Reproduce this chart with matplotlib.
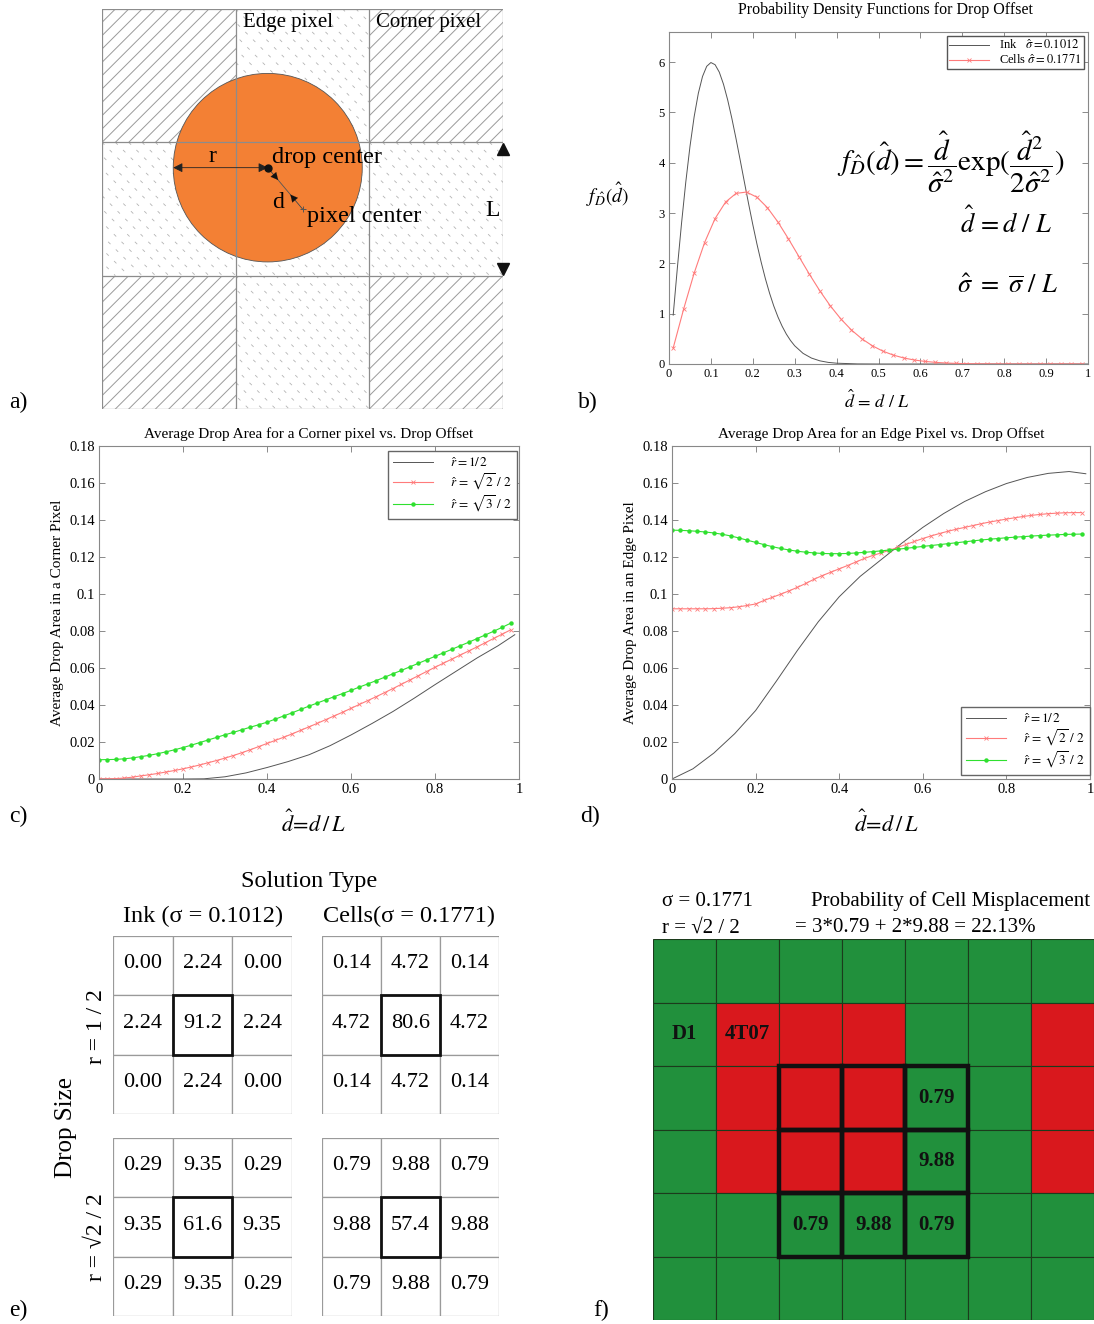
import numpy as np
import matplotlib
matplotlib.use("Agg")
import matplotlib.pyplot as plt
from matplotlib.patches import Rectangle, Circle

plt.rcParams['font.family'] = ['Liberation Serif', 'DejaVu Serif']
plt.rcParams['mathtext.fontset'] = 'stix'

W, H = 1094, 1324

# ---- panel b: probability density of drop offset
ink_x = [0.01, 0.02, 0.03, 0.04, 0.05, 0.06, 0.07, 0.08, 0.09, 0.10,
         0.11, 0.12, 0.13, 0.14, 0.15, 0.16, 0.17, 0.18, 0.19, 0.20,
         0.21, 0.22, 0.23, 0.24, 0.25, 0.26, 0.27, 0.28, 0.29, 0.30,
         0.32, 0.34, 0.36, 0.38, 0.40, 0.45, 0.50, 0.60, 0.70, 0.80, 0.90, 1.00]
ink_pdf = [0.972, 1.915, 2.804, 3.612, 4.321, 4.915, 5.381, 5.716, 5.918, 5.993,
           5.950, 5.802, 5.563, 5.251, 4.883, 4.478, 4.049, 3.614, 3.184, 2.771,
           2.381, 2.023, 1.697, 1.408, 1.154, 0.936, 0.751, 0.595, 0.467, 0.362,
           0.211, 0.118, 0.063, 0.032, 0.016, 0.002, 0.0, 0.0, 0.0, 0.0, 0.0, 0.0]
cells_x = np.arange(40) * 0.025 + 0.01
cells_pdf = [0.318, 1.094, 1.806, 2.415, 2.892, 3.219, 3.392, 3.418, 3.315, 3.107,
             2.822, 2.489, 2.137, 1.786, 1.454, 1.156, 0.897, 0.679, 0.503, 0.364,
             0.257, 0.178, 0.120, 0.080, 0.052, 0.033, 0.020, 0.012, 0.007, 0.004,
             0.002, 0.001, 0.001, 0.0, 0.0, 0.0, 0.0, 0.0, 0.0, 0.0]

# ---- panels c, d: average drop area vs offset
offset = np.arange(50) * 0.02
line_x = [0.0, 0.05, 0.10, 0.15, 0.20, 0.25, 0.30, 0.35, 0.40, 0.45, 0.50,
          0.55, 0.60, 0.65, 0.70, 0.75, 0.80, 0.85, 0.90, 0.95, 0.99]
corner_half = [0.0, 0.0, 0.0, 0.0, 0.0, 0.0001, 0.0012, 0.0033, 0.0062, 0.0094, 0.0131,
               0.0180, 0.0238, 0.0300, 0.0365, 0.0436, 0.0510, 0.0582, 0.0654, 0.0720, 0.0780]
corner_sqrt2 = [0.0000, 0.0001, 0.0002, 0.0005, 0.0010, 0.0017, 0.0023, 0.0030, 0.0038, 0.0046,
                0.0055, 0.0065, 0.0076, 0.0088, 0.0100, 0.0113, 0.0127, 0.0142, 0.0158, 0.0175,
                0.0192, 0.0209, 0.0226, 0.0244, 0.0263, 0.0282, 0.0301, 0.0321, 0.0341, 0.0361,
                0.0382, 0.0403, 0.0424, 0.0445, 0.0467, 0.0489, 0.0512, 0.0535, 0.0558, 0.0581,
                0.0604, 0.0626, 0.0648, 0.0670, 0.0692, 0.0714, 0.0737, 0.0760, 0.0783, 0.0806]
corner_sqrt3 = [0.0104, 0.0105, 0.0106, 0.0109, 0.0114, 0.0121, 0.0128, 0.0137, 0.0147, 0.0158,
                0.0170, 0.0183, 0.0197, 0.0211, 0.0225, 0.0239, 0.0252, 0.0266, 0.0280, 0.0293,
                0.0307, 0.0324, 0.0341, 0.0358, 0.0376, 0.0394, 0.0411, 0.0428, 0.0445, 0.0462,
                0.0479, 0.0497, 0.0514, 0.0532, 0.0550, 0.0569, 0.0587, 0.0606, 0.0625, 0.0644,
                0.0663, 0.0682, 0.0701, 0.0720, 0.0739, 0.0759, 0.0779, 0.0799, 0.0820, 0.0842]
edge_half = [0.0, 0.0055, 0.0140, 0.0245, 0.0370, 0.0530, 0.0695, 0.0850, 0.0985, 0.1095, 0.1185,
             0.1275, 0.1360, 0.1435, 0.1500, 0.1553, 0.1597, 0.1630, 0.1652, 0.1662, 0.1650]
edge_sqrt2 = [0.0920, 0.0920, 0.0920, 0.0920, 0.0920, 0.0921, 0.0923, 0.0926, 0.0931, 0.0938,
              0.0946, 0.0965, 0.0982, 0.0999, 0.1017, 0.1036, 0.1057, 0.1080, 0.1100, 0.1118,
              0.1136, 0.1154, 0.1173, 0.1192, 0.1208, 0.1222, 0.1236, 0.1252, 0.1268, 0.1284,
              0.1300, 0.1314, 0.1327, 0.1339, 0.1350, 0.1360, 0.1370, 0.1380, 0.1389, 0.1397,
              0.1405, 0.1412, 0.1419, 0.1425, 0.1430, 0.1434, 0.1437, 0.1439, 0.1440, 0.1440]
edge_sqrt3 = [0.1345, 0.1344, 0.1342, 0.1339, 0.1335, 0.1330, 0.1323, 0.1314, 0.1303, 0.1291,
              0.1279, 0.1267, 0.1256, 0.1246, 0.1238, 0.1231, 0.1226, 0.1222, 0.1219, 0.1218,
              0.1218, 0.1219, 0.1222, 0.1225, 0.1229, 0.1233, 0.1238, 0.1242, 0.1247, 0.1252,
              0.1257, 0.1262, 0.1267, 0.1272, 0.1277, 0.1282, 0.1287, 0.1292, 0.1296, 0.1300,
              0.1304, 0.1307, 0.1310, 0.1313, 0.1316, 0.1318, 0.1320, 0.1322, 0.1323, 0.1324]
radius_labels = [r'$\hat{r}=1/\,2$', r'$\hat{r}\,=\,\sqrt{2}\ /\ 2$', r'$\hat{r}\,=\,\sqrt{3}\ /\ 2$']

# ---- panel e: probability tables (%)
ink_r_half = [[0.00, 2.24, 0.00], [2.24, 91.2, 2.24], [0.00, 2.24, 0.00]]
cells_r_half = [[0.14, 4.72, 0.14], [4.72, 80.6, 4.72], [0.14, 4.72, 0.14]]
ink_r_sqrt2 = [[0.29, 9.35, 0.29], [9.35, 61.6, 9.35], [0.29, 9.35, 0.29]]
cells_r_sqrt2 = [[0.79, 9.88, 0.79], [9.88, 57.4, 9.88], [0.79, 9.88, 0.79]]

# ---- panel f: plate layout (G = green, R = red)
plate = ["GGGGGGG",
         "GRRRGGR",
         "GRRRGGR",
         "GRRRGGR",
         "GGGGGGG",
         "GGGGGGG"]
plate_labels = {(1, 0): "D1", (1, 1): "4T07", (2, 4): "0.79", (3, 4): "9.88",
                (4, 2): "0.79", (4, 3): "9.88", (4, 4): "0.79"}

GREEN = '#21903c'
RED = '#d9181d'
ORANGE = '#f38034'

fig = plt.figure(figsize=(W / 100, H / 100), dpi=100)


def px_axes(left, top, right, bottom):
    return fig.add_axes([left / W, 1 - bottom / H, (right - left) / W, (bottom - top) / H])


def ftext(px, py, s, **kw):
    kw.setdefault('ha', 'center')
    kw.setdefault('va', 'center')
    fig.text(px / W, 1 - py / H, s, **kw)


def style_axes(ax, labelsize):
    ax.tick_params(direction='in', top=True, right=True, length=4, width=0.6,
                   color='#777777', labelsize=labelsize, pad=3)
    for sp in ax.spines.values():
        sp.set_color('#888888')
        sp.set_linewidth(0.8)


def gfmt(v, _pos=None):
    return f'{v:g}'


# ================= a) geometry sketch
ax = px_axes(102, 9, 503, 409)
ax.set_xlim(0, 3)
ax.set_ylim(0, 3)
ax.axis('off')
for i in range(3):
    for j in range(3):
        clip = Rectangle((i, j), 1, 1, transform=ax.transData)
        corner = (i != 1 and j != 1)
        for k in np.arange(-12, 13) * 0.1:
            if corner:
                ln, = ax.plot([i + k, i + k + 1], [j, j + 1], color='#9a9a9a', lw=0.7, zorder=1)
            else:
                ln, = ax.plot([i + k, i + k + 1], [j + 1, j], color='#b4b4b4', lw=0.6,
                              dashes=(4, 9), zorder=1)
            ln.set_clip_path(clip)
drop = (1.24, 1.81)
pix = (1.5, 1.5)
ax.add_patch(Circle(drop, 0.707, facecolor=ORANGE, edgecolor='#555555', lw=0.6, zorder=2))
for v in range(4):
    ax.plot([v, v], [0, 3], color='#8c8c8c', lw=0.9, zorder=3)
    ax.plot([0, 3], [v, v], color='#8c8c8c', lw=0.9, zorder=3)
ax.annotate('', xy=(drop[0] - 0.707, drop[1]), xytext=drop,
            arrowprops=dict(arrowstyle='<|-|>', color='#222222', lw=0.6, mutation_scale=14,
                            shrinkA=0, shrinkB=0), zorder=4)
vec = np.subtract(pix, drop)
ax.plot([drop[0], pix[0]], [drop[1], pix[1]], color='#555555', lw=0.6, zorder=4)
ax.annotate('', xy=tuple(np.add(drop, 0.3 * vec)), xytext=drop,
            arrowprops=dict(arrowstyle='-|>', color='#111111', lw=0.1, mutation_scale=13,
                            shrinkA=0, shrinkB=0), zorder=4)
ax.annotate('', xy=tuple(np.add(pix, -0.35 * vec)), xytext=pix,
            arrowprops=dict(arrowstyle='-|>', color='#111111', lw=0.1, mutation_scale=13,
                            shrinkA=0, shrinkB=0), zorder=4)
ax.plot(*drop, 'o', color='#111111', ms=5, zorder=5)
ax.plot(*pix, '+', color='#555555', ms=5, mew=0.7, zorder=5)
ax.plot([3], [1.95], '^', color='#111111', ms=8, clip_on=False, zorder=5)
ax.plot([3], [1.05], 'v', color='#111111', ms=8, clip_on=False, zorder=5)
ax.text(1.055, 2.895, 'Edge pixel', fontsize=15, ha='left', va='center', zorder=6)
ax.text(2.05, 2.895, 'Corner pixel', fontsize=15, ha='left', va='center', zorder=6)
ax.text(0.823, 1.89, 'r', fontsize=17, ha='center', va='center', zorder=6)
ax.text(1.27, 1.89, 'drop center', fontsize=17.5, ha='left', va='center', zorder=6)
ax.text(1.317, 1.545, 'd', fontsize=17, ha='center', va='center', zorder=6)
ax.text(1.53, 1.447, 'pixel center', fontsize=17.5, ha='left', va='center', zorder=6)
ax.text(2.925, 1.485, 'L', fontsize=17, ha='center', va='center', zorder=6)

# ================= b) pdf
ax = px_axes(669, 32, 1088, 364)
ax.plot(ink_x, ink_pdf, color='#555555', lw=0.7, label=r'Ink   $\hat{\sigma}=0.1012$')
ax.plot(cells_x, cells_pdf, color='#ff7b7b', lw=0.8, marker='x', ms=3.5, mew=0.6,
        label=r'Cells $\hat{\sigma}=0.1771$')
ax.set_xlim(0, 1)
ax.set_ylim(0, 6.6)
ax.set_xticks(np.arange(11) * 0.1)
ax.set_yticks(range(7))
ax.xaxis.set_major_formatter(gfmt)
style_axes(ax, 9)
ax.legend(loc='upper right', bbox_to_anchor=(1084 / W, 1 - 36 / H), bbox_transform=fig.transFigure,
          fontsize=9, handlelength=3.2, handletextpad=0.8, borderpad=0.2, labelspacing=0.1,
          fancybox=False, edgecolor='#555555', framealpha=1, borderaxespad=0)
ftext(885, 10, 'Probability Density Functions for Drop Offset', fontsize=11.5)
ftext(951, 162, r'$f_{\hat{D}}(\hat{d}) = \dfrac{\hat{d}}{\hat{\sigma}^2}\exp(\dfrac{\hat{d}^2}{2\hat{\sigma}^2})$',
      fontsize=21)
ftext(1006, 222, r'$\hat{d}\,=d\ /\ L$', fontsize=19)
ftext(1008, 287, r'$\hat{\sigma}\ =\ \overline{\sigma}\ /\ L$', fontsize=19)
ftext(607, 195, r'$f_{\hat{D}}(\hat{d})$', fontsize=14)
ftext(877, 401, r'$\hat{d}\,=\,d\ /\ L$', fontsize=13)


# ================= c) and d) average drop area
def area_panel(left, right, half, sqrt2, sqrt3, title, ylabel, leg_loc, leg_anchor):
    ax = px_axes(left, 446, right, 779)
    ax.plot(line_x, half, color='#555555', lw=0.7, label=radius_labels[0])
    ax.plot(offset, sqrt2, color='#ff7b7b', lw=0.8, marker='x', ms=3.5, mew=0.6,
            label=radius_labels[1])
    ax.plot(offset, sqrt3, color='#2fe02f', lw=0.8, marker='o', ms=3.2, mew=0,
            label=radius_labels[2])
    ax.set_xlim(0, 1)
    ax.set_ylim(0, 0.18)
    ax.set_xticks(np.arange(6) * 0.2)
    ax.set_yticks(np.arange(10) * 0.02)
    ax.xaxis.set_major_formatter(gfmt)
    ax.yaxis.set_major_formatter(gfmt)
    style_axes(ax, 10.5)
    ax.set_title(title, fontsize=11, pad=6)
    ax.set_ylabel(ylabel, fontsize=11, labelpad=4)
    ax.legend(loc=leg_loc, bbox_to_anchor=leg_anchor, bbox_transform=fig.transFigure,
              fontsize=9.5, handlelength=3.0, handletextpad=1.3, borderpad=0.4,
              labelspacing=0.12, fancybox=False, edgecolor='#666666', framealpha=1,
              borderaxespad=0)
    return ax


area_panel(99, 519, corner_half, corner_sqrt2, corner_sqrt3,
           'Average Drop Area for a Corner pixel vs. Drop Offset',
           'Average Drop Area in a Corner Pixel', 'upper right', (517 / W, 1 - 451 / H))
area_panel(672, 1090, edge_half, edge_sqrt2, edge_sqrt3,
           'Average Drop Area for an Edge Pixel vs. Drop Offset',
           'Average Drop Area in an Edge Pixel', 'lower right', (1090 / W, 1 - 775 / H))
ftext(313, 824, r'$\hat{d}\!=\!d\,/\,L$', fontsize=16)
ftext(886, 824, r'$\hat{d}\!=\!d\,/\,L$', fontsize=16)


# ================= e) tables
def prob_table(box, values):
    ax = px_axes(*box)
    ax.set_xlim(0, 3)
    ax.set_ylim(3, 0)
    ax.axis('off')
    for r in range(3):
        for c in range(3):
            ax.add_patch(Rectangle((c, r), 1, 1, facecolor='white', edgecolor='#9a9a9a', lw=0.9))
            v = values[r][c]
            txt = f'{v:.2f}' if v < 10 else f'{v:.1f}'
            ax.text(c + 0.5, r + 0.47, txt, fontsize=16, ha='center', va='center')
    ax.add_patch(Rectangle((1, 1), 1, 1, fill=False, edgecolor='#111111', lw=2.0, zorder=3))


prob_table((113, 936, 292, 1114), ink_r_half)
prob_table((322, 936, 499, 1114), cells_r_half)
prob_table((113, 1138, 292, 1316), ink_r_sqrt2)
prob_table((322, 1138, 499, 1316), cells_r_sqrt2)
ftext(309, 882, 'Solution Type', fontsize=17.5)
ftext(203, 916, 'Ink (σ = 0.1012)', fontsize=17.5)
ftext(409, 916, 'Cells(σ = 0.1771)', fontsize=17.5)
ftext(96, 1027, 'r = 1 / 2', fontsize=17, rotation=90)
ftext(96, 1237, 'r = √2 / 2', fontsize=17, rotation=90)
ftext(66, 1127, 'Drop Size', fontsize=18, rotation=90)

# ================= f) plate
ax = px_axes(653, 939, 1094, 1320)
ax.set_xlim(0, 7)
ax.set_ylim(6, 0)
ax.axis('off')
for r, row in enumerate(plate):
    for c, code in enumerate(row):
        ax.add_patch(Rectangle((c, r), 1, 1, facecolor=GREEN if code == 'G' else RED,
                               edgecolor='#1c3b1c', lw=0.8))
for r in range(2, 5):
    for c in range(2, 5):
        ax.add_patch(Rectangle((c, r), 1, 1, fill=False, edgecolor='#111111', lw=3.2, zorder=3))
for (r, c), s in plate_labels.items():
    ax.text(c + 0.5, r + 0.5, s, fontsize=15, fontweight='bold', ha='center', va='center',
            color='#111111', zorder=4)
ftext(662, 902, 'σ = 0.1771', fontsize=15, ha='left')
ftext(662, 928, 'r = √2 / 2', fontsize=15, ha='left')
ftext(811, 901, 'Probability of Cell Misplacement', fontsize=15, ha='left')
ftext(795, 928, '= 3*0.79 + 2*9.88 = 22.13%', fontsize=15, ha='left')

# ================= panel letters
for lx, ly, s in [(18, 402, 'a)'), (588, 402, 'b)'), (18, 816, 'c)'), (590, 816, 'd)'),
                  (18, 1310, 'e)'), (601, 1310, 'f)')]:
    ftext(lx, ly, s, fontsize=17)

fig.savefig('out.png', dpi=100)
